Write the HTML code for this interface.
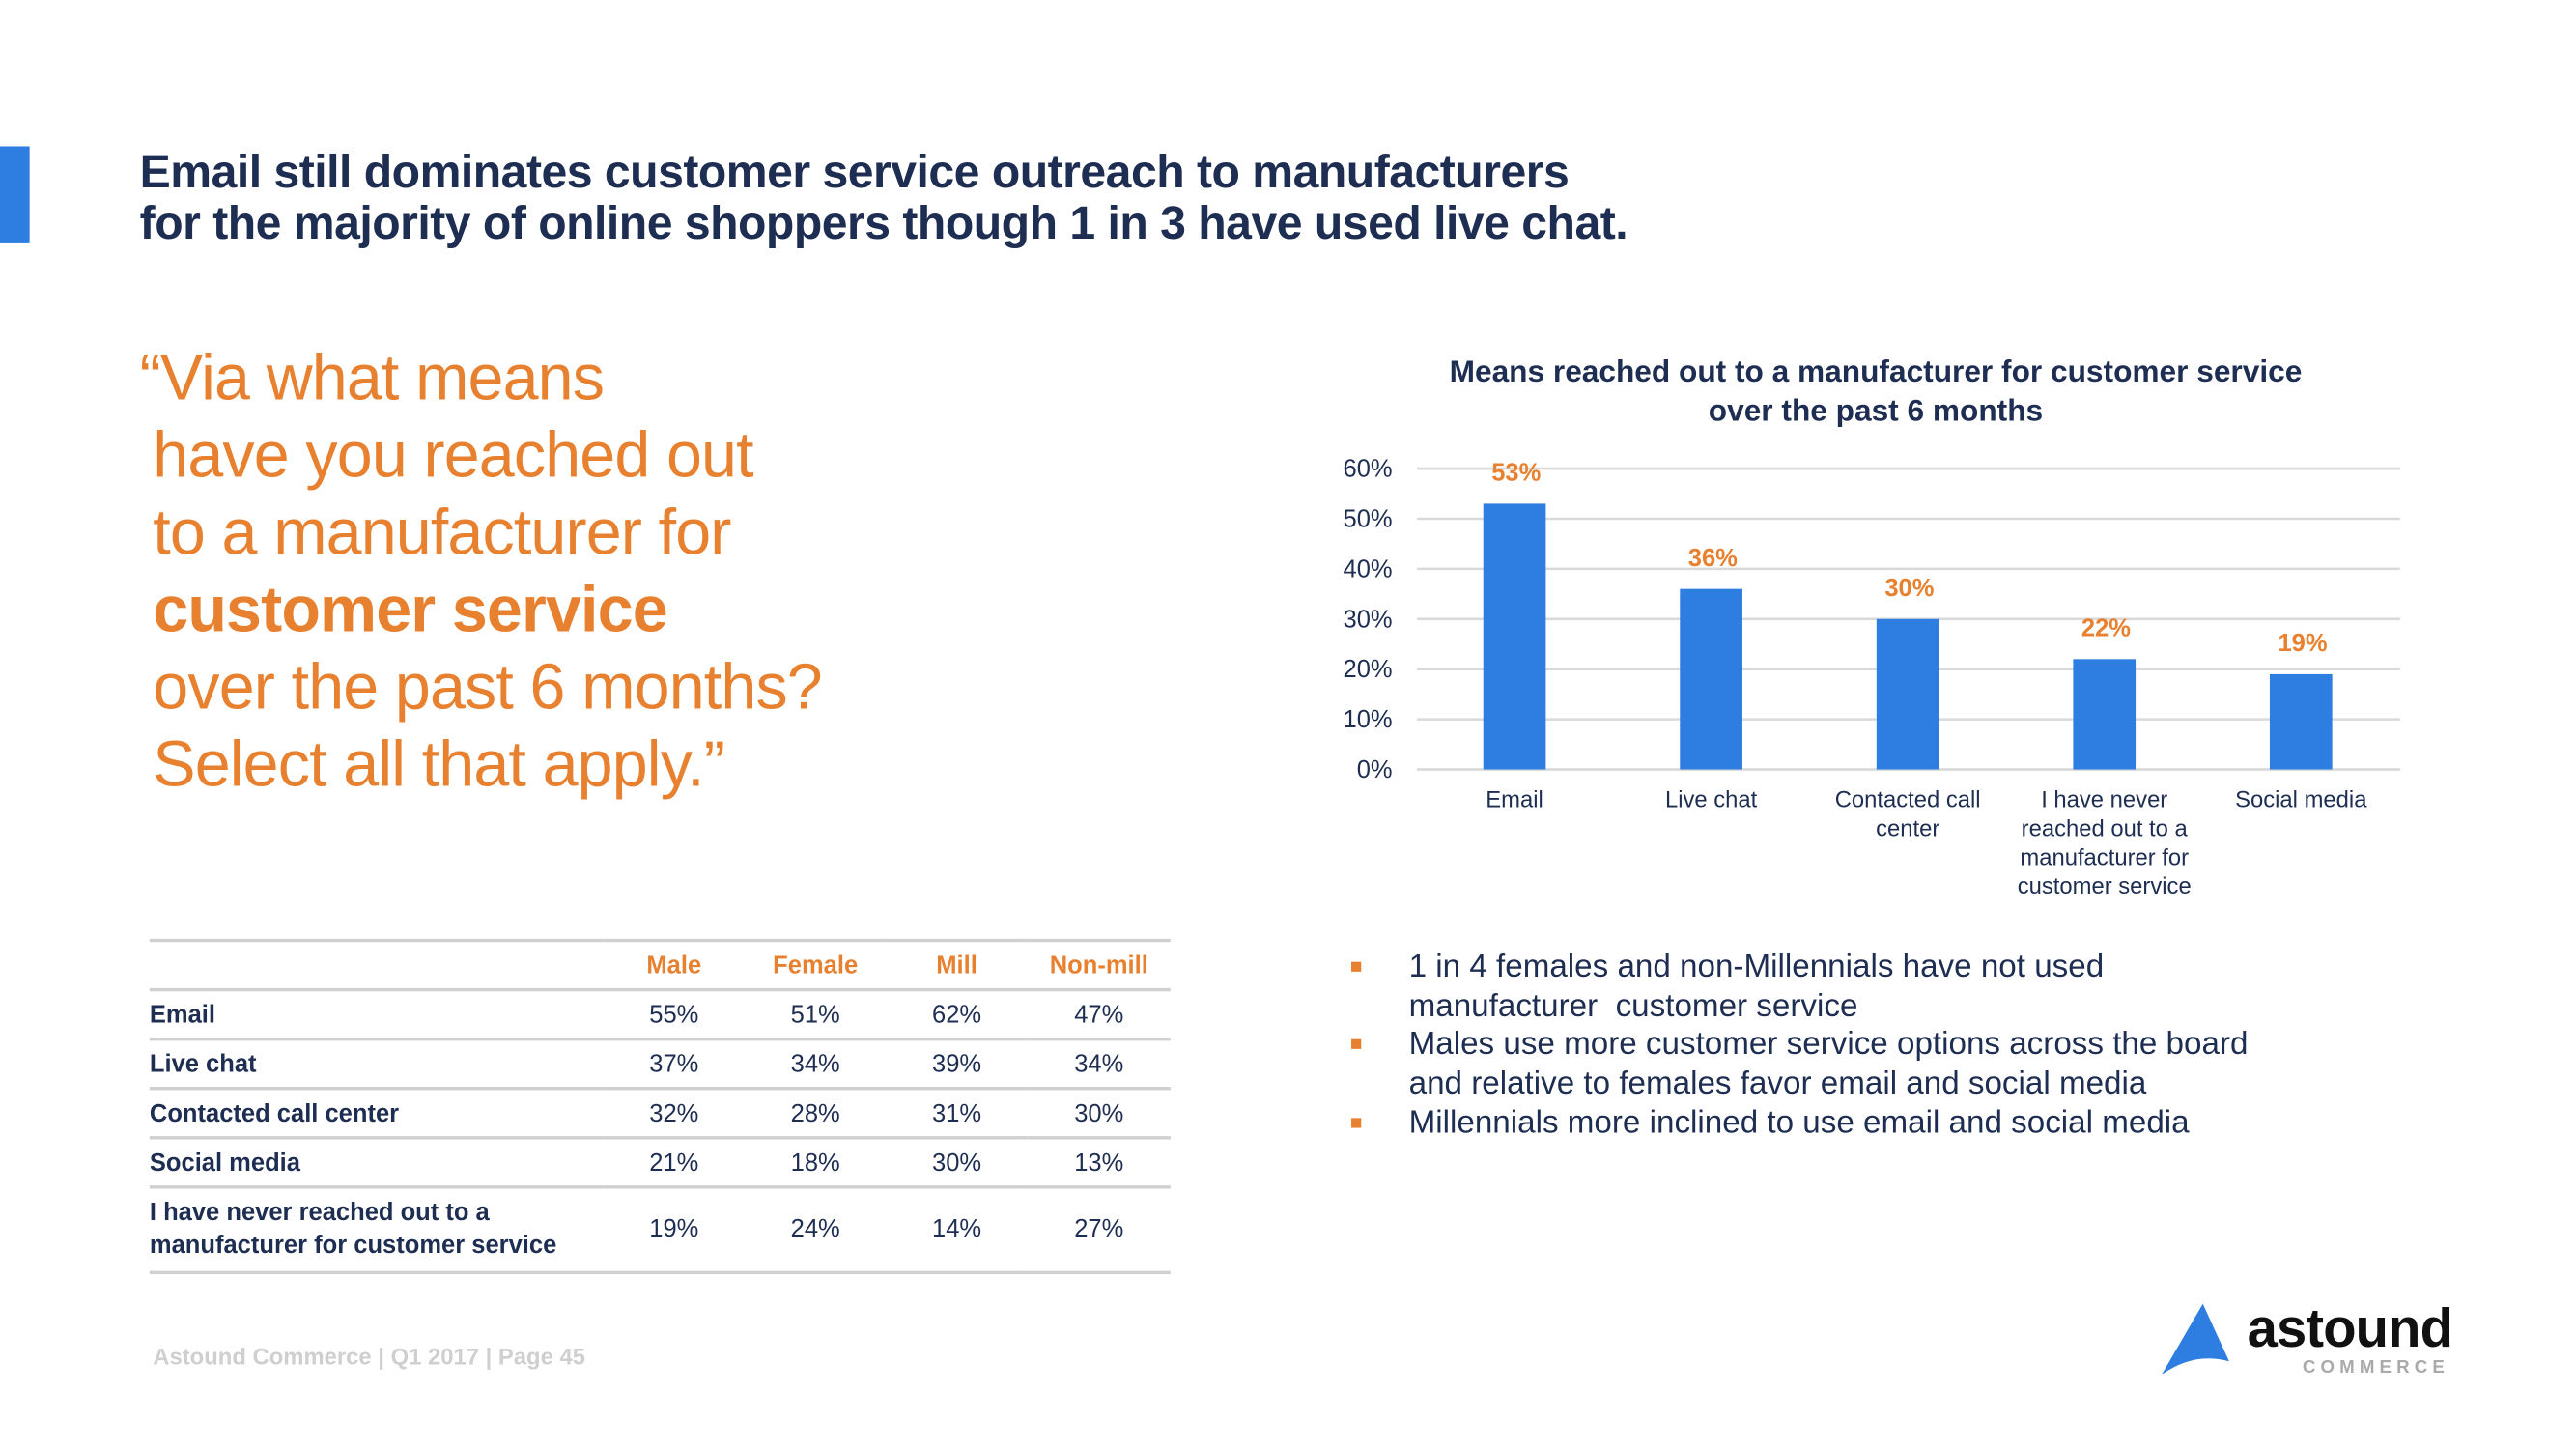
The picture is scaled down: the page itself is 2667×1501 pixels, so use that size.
<!DOCTYPE html>
<html><head><meta charset="utf-8">
<style>
html,body{margin:0;padding:0;background:#fff;}
body{width:2667px;height:1500px;overflow:hidden;}
#page{position:absolute;left:0;top:0;width:1567px;height:882px;transform:scale(1.702);transform-origin:0 0;font-family:"Liberation Sans",sans-serif;}
.abs{position:absolute;}
#title{left:85px;top:89px;font-size:28.3px;font-weight:bold;color:#1e2d52;line-height:31px;letter-spacing:-0.3px;white-space:nowrap;}
#question{left:85px;top:207px;font-size:39px;color:#e8812f;line-height:47px;white-space:nowrap;letter-spacing:-0.5px;}
#question div{padding-left:8px;}
#question div.first{padding-left:0;}
table{position:absolute;left:91px;top:571px;width:621px;border-collapse:collapse;table-layout:fixed;font-size:15px;color:#1e2d52;}
td,th{border-top:2px solid #d0d0d0;height:28px;padding:0;text-align:center;}
th{color:#e8812f;font-weight:bold;}
td.l{text-align:left;font-weight:bold;}
tr:last-child td{border-bottom:2px solid #d0d0d0;height:50px;line-height:20px;}
#bullets{left:820px;top:577px;font-size:19.5px;color:#1e2d52;line-height:23.7px;white-space:nowrap;}
#bullets .b{position:relative;padding-left:37px;}
#bullets .b:before{content:"";position:absolute;left:2px;top:8px;width:6px;height:6px;background:#e8812f;}
#footer{left:93px;top:817px;font-size:14px;font-weight:bold;color:#cfcfcf;}
</style></head><body>
<div id="page">
<div class="abs" style="left:0;top:89px;width:18px;height:59px;background:#2e7de1"></div>
<div id="title" class="abs">Email still dominates customer service outreach to manufacturers<br>for the majority of online shoppers though 1 in 3 have used live chat.</div>
<div id="question" class="abs">
<div class="first">“Via what means</div><div>have you reached out</div><div>to a manufacturer for</div><div style="font-weight:bold">customer service</div><div>over the past 6 months?</div><div>Select all that apply.”</div>
</div>
<svg class="abs" style="left:0;top:0" width="1567" height="882">
<text x="1141" y="232" text-anchor="middle" font-size="18.6" font-weight="bold" fill="#1e2d52">Means reached out to a manufacturer for customer service</text>
<text x="1141" y="256" text-anchor="middle" font-size="18.6" font-weight="bold" fill="#1e2d52">over the past 6 months</text>
<g id="grid"></g><g id="bars"></g><g id="labels"></g>
</svg>
<table>
<colgroup><col style="width:276px"><col style="width:86px"><col style="width:86px"><col style="width:86px"><col style="width:87px"></colgroup>
<tr><th></th><th>Male</th><th>Female</th><th>Mill</th><th>Non-mill</th></tr>
<tr><td class="l">Email</td><td>55%</td><td>51%</td><td>62%</td><td>47%</td></tr>
<tr><td class="l">Live chat</td><td>37%</td><td>34%</td><td>39%</td><td>34%</td></tr>
<tr><td class="l">Contacted call center</td><td>32%</td><td>28%</td><td>31%</td><td>30%</td></tr>
<tr><td class="l">Social media</td><td>21%</td><td>18%</td><td>30%</td><td>13%</td></tr>
<tr><td class="l">I have never reached out to a<br>manufacturer for customer service</td><td>19%</td><td>24%</td><td>14%</td><td>27%</td></tr>
</table>
<div id="bullets" class="abs">
<div class="b">1 in 4 females and non-Millennials have not used<br>manufacturer&nbsp; customer service</div>
<div class="b">Males use more customer service options across the board<br>and relative to females favor email and social media</div>
<div class="b">Millennials more inclined to use email and social media</div>
</div>
<div id="footer" class="abs">Astound Commerce | Q1 2017 | Page 45</div>
<svg class="abs" style="left:1310px;top:788px" width="190" height="55">
<path d="M5 48 L30 5 L46 40 Q25 34 5 48 Z" fill="#2e7de1"/>
<text x="57" y="31" font-size="33" font-weight="bold" fill="#111" letter-spacing="-0.5">astound</text>
<text x="180" y="47" text-anchor="end" font-size="11" font-weight="bold" fill="#aaa" letter-spacing="3">COMMERCE</text>
</svg>
</div>
<script>
const categories=[["Email"],["Live chat"],["Contacted call","center"],["I have never","reached out to a","manufacturer for","customer service"],["Social media"]];
const values=[53,36,30,22,19];
const valueLabels=["53%","36%","30%","22%","19%"];
const ticks=[0,10,20,30,40,50,60];
const ns="http://www.w3.org/2000/svg";
const x0=862,x1=1460,y0=468,y60=285;
const yS=v=>y0-(y0-y60)*v/60;
const band=(x1-x0)/categories.length;
const xC=i=>x0+band*(i+0.5)-0.5;
function mk(t,a){const e=document.createElementNS(ns,t);for(const k in a)e.setAttribute(k,a[k]);return e;}
const grid=document.getElementById('grid'),bars=document.getElementById('bars'),labels=document.getElementById('labels');
ticks.forEach(t=>{
 const l=mk('line',{x1:x0,x2:x1,y1:yS(t),y2:yS(t),stroke:'#d9d9d9','stroke-width':1.5});
 
 
 grid.appendChild(l);
 const tx=mk('text',{x:847,y:yS(t)+5,'text-anchor':'end','font-size':15,fill:'#1e2d52'});
 tx.textContent=t+'%';
 
 
 grid.appendChild(tx);
});
values.forEach((v,i)=>{
 const w=38;
 const r=mk('rect',{x:xC(i)-w/2,y:yS(v),width:w,height:y0-yS(v),fill:'#2e7de1'});
 
 
 bars.appendChild(r);
 const t=mk('text',{x:xC(i)+1,y:yS(v)-14,'text-anchor':'middle','font-size':15,'font-weight':'bold',fill:'#e8812f'});
 t.textContent=valueLabels[i];
 
 
 labels.appendChild(t);
 categories[i].forEach((ln,j)=>{
  const c=mk('text',{x:xC(i),y:491+j*17.5,'text-anchor':'middle','font-size':14,fill:'#1e2d52'});
  c.textContent=ln;
  
  
  labels.appendChild(c);
 });
});
</script>
</body></html>
